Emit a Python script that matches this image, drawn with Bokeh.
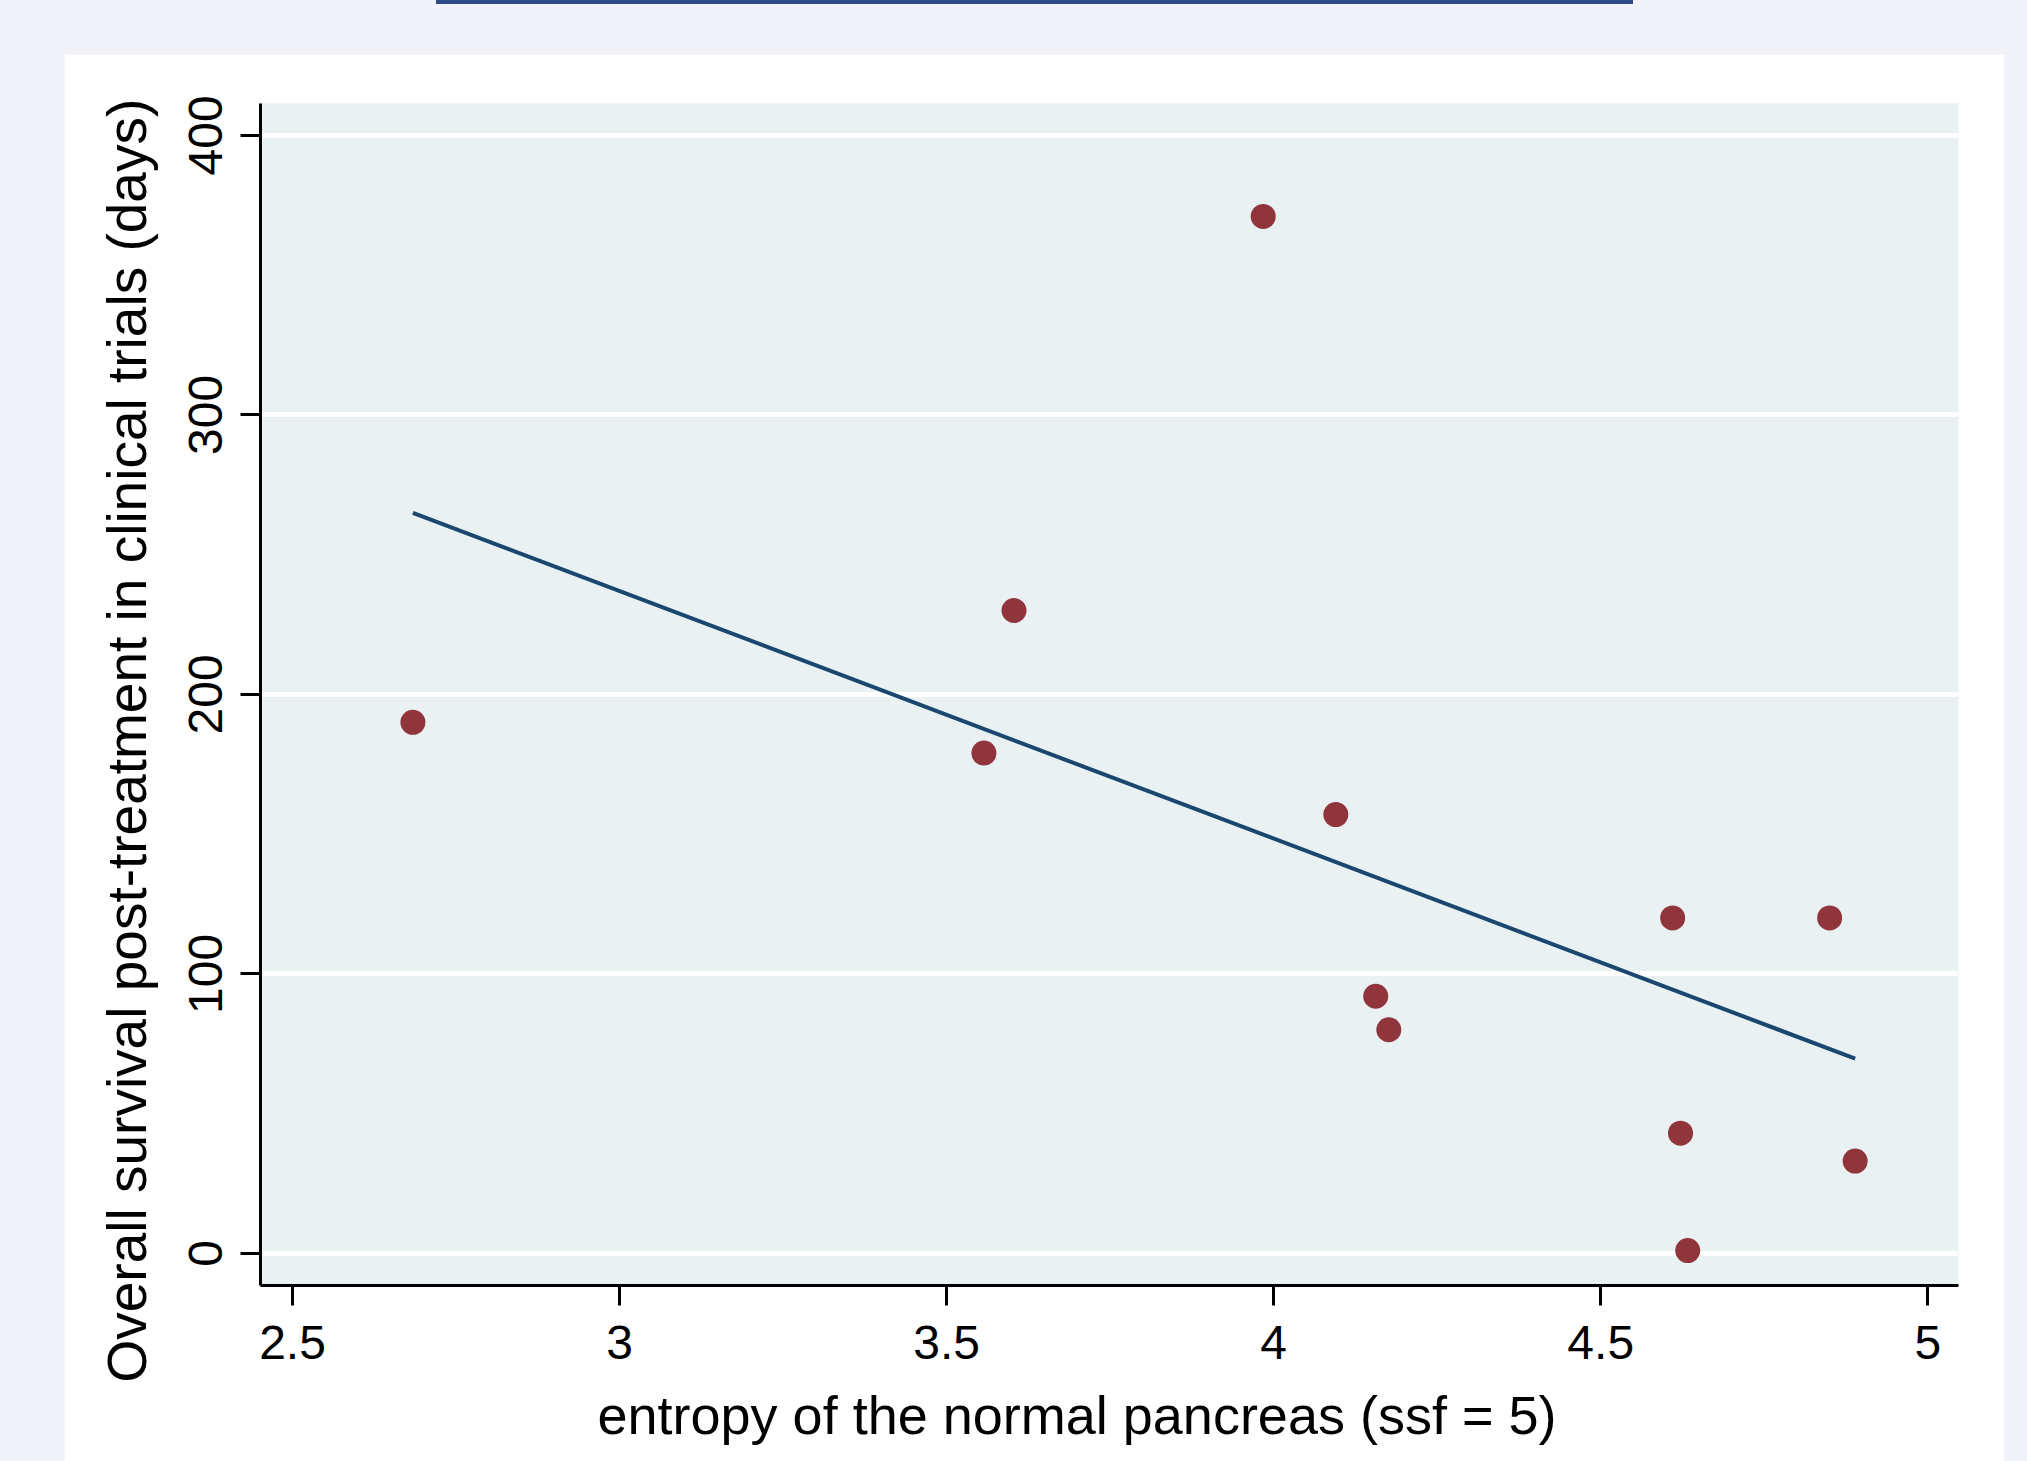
import numpy as np
from bokeh.plotting import figure
from bokeh.models import Range1d, FixedTicker, Title, Div, Spacer, GlobalInlineStyleSheet
from bokeh.layouts import column, row
from bokeh.embed import file_html
from bokeh.resources import INLINE

# ---- data ----
entropy = [2.684, 3.557, 3.603, 3.984, 4.095, 4.156, 4.176, 4.610, 4.622, 4.633, 4.850, 4.889]
survival = [190, 179, 230, 371, 157, 92, 80, 120, 43, 1, 120, 33]

x_ticks = [2.5, 3, 3.5, 4, 4.5, 5]
x_tick_labels = ["2.5", "3", "3.5", "4", "4.5", "5"]
y_ticks = [0, 100, 200, 300, 400]
y_tick_labels = ["0", "100", "200", "300", "400"]

x_title = "entropy of the normal pancreas (ssf = 5)"
y_title = "Overall survival post-treatment in clinical trials (days)"

# linear fit (like Stata lfit) drawn over the data range
slope, intercept = np.polyfit(entropy, survival, 1)
fit_x = [min(entropy), max(entropy)]
fit_y = [intercept + slope * v for v in fit_x]

FONT = "Liberation Sans"
OUTER_BG = "#f1f3f8"

p = figure(width=1940, height=1430,
           x_range=Range1d(2.451, 5.047), y_range=Range1d(-11.5, 411.4),
           output_backend="svg", toolbar_location=None,
           min_border_left=195, min_border_right=46,
           min_border_top=49, min_border_bottom=199)
p.background_fill_color = "#eaf1f3"
p.border_fill_color = "white"
p.outline_line_color = None

# axes
for ax in (p.xaxis[0], p.yaxis[0]):
    ax.axis_line_color = "black"
    ax.axis_line_width = 3
    ax.major_tick_line_color = "black"
    ax.major_tick_line_width = 3
    ax.major_tick_out = 20
    ax.major_tick_in = 0
    ax.minor_tick_out = 0
    ax.minor_tick_in = 0
    ax.major_label_text_font = FONT
    ax.major_label_text_font_size = "48px"
    ax.major_label_text_color = "black"

p.xaxis.major_label_standoff = 20
p.yaxis.major_label_standoff = 18
p.xaxis.ticker = FixedTicker(ticks=x_ticks)
p.xaxis.major_label_overrides = {t: l for t, l in zip(x_ticks, x_tick_labels)}
p.yaxis.ticker = FixedTicker(ticks=y_ticks)
p.yaxis.major_label_overrides = {t: l for t, l in zip(y_ticks, y_tick_labels)}
p.yaxis.major_label_orientation = "vertical"

# grid
p.xgrid.visible = False
p.ygrid.ticker = FixedTicker(ticks=y_ticks)
p.ygrid.grid_line_color = "white"
p.ygrid.grid_line_width = 5

# marks
p.scatter(entropy, survival, size=25, fill_color="#90353b", line_color="#90353b", line_width=0)
p.line(fit_x, fit_y, line_color="#1a476f", line_width=4)

# axis titles
p.add_layout(Title(text=x_title, align="left", offset=337, standoff=42,
                   text_font=FONT, text_font_size="54px", text_font_style="normal",
                   text_color="black"), "below")
p.add_layout(Title(text=y_title, align="left", offset=-97, standoff=58,
                   text_font=FONT, text_font_size="55px", text_font_style="normal",
                   text_color="black"), "left")

bar = Div(text='<div style="position:absolute;left:436px;top:0px;width:1197px;height:4px;'
               'background:#2f4a86;"></div>',
          width=2004, height=54, margin=0)

css = "html, body { background-color: %s; overflow: hidden; }" % OUTER_BG
layout = column(bar, row(Spacer(width=64, height=1430), p),
                stylesheets=[GlobalInlineStyleSheet(css=css)])

open("out.html", "w").write(file_html(layout, INLINE))
